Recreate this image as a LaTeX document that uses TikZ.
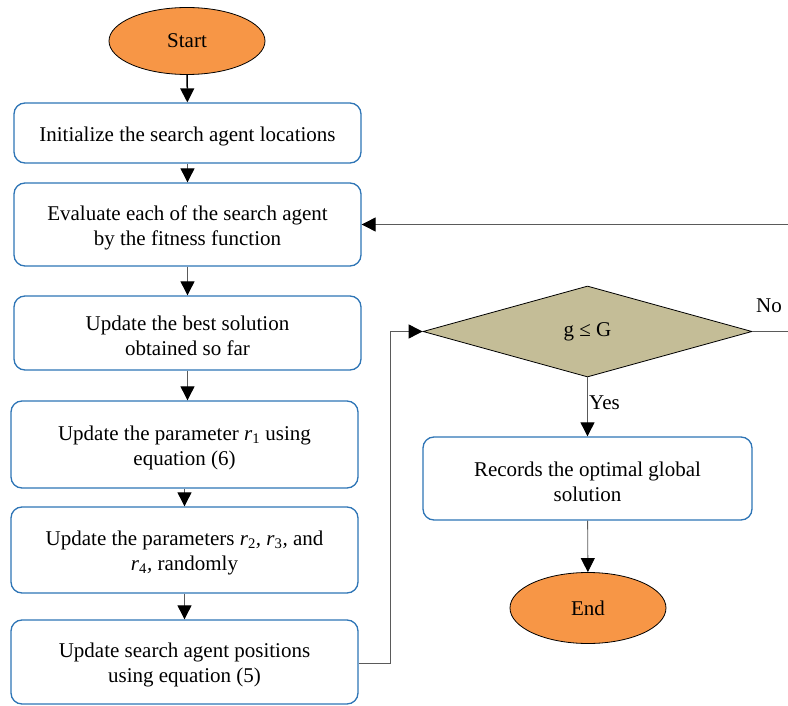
\documentclass[tikz,border=0pt]{standalone}
\usepackage{fontspec}
\setmainfont{Liberation Serif}
\usetikzlibrary{shapes.geometric,arrows.meta}
\definecolor{boxblue}{RGB}{46,117,182}
\definecolor{startorange}{RGB}{247,150,70}
\definecolor{tan}{RGB}{196,189,151}
\definecolor{linegray}{RGB}{90,90,90}
\tikzset{
  stepbox/.style={draw=boxblue, line width=1.3pt, rounded corners=11pt, fill=white,
    inner sep=0pt},
  boxtext/.style={align=center, inner sep=0pt, yshift=-3pt, font=\fontsize{21}{25}\selectfont},
  terminal/.style={ellipse, draw=black, line width=0.8pt, fill=startorange, inner sep=0pt,
    font=\fontsize{21}{25}\selectfont},
  decision/.style={diamond, draw=black, line width=0.8pt, fill=tan, inner sep=0pt,
    font=\fontsize{21}{25}\selectfont},
  conn/.style={draw=linegray, line width=0.9pt, -{Triangle[length=14pt,width=14pt,fill=black,color=black]}},
  lbl/.style={font=\fontsize{21}{25}\selectfont, inner sep=0pt},
}
\begin{document}
\begin{tikzpicture}[x=1pt,y=-1pt]
\useasboundingbox (0,0) rectangle (788,706);
\node[terminal, minimum width=156pt, minimum height=67pt] (start) at (187,41) {\raisebox{-1pt}{Start}};
\node[stepbox, minimum width=347pt, minimum height=60pt,
  label={[boxtext]center:Initialize the search agent locations}] (b1) at (187.5,133) {};
\node[stepbox, minimum width=347pt, minimum height=83pt,
  label={[boxtext]center:Evaluate each of the search agent\\by the fitness function}] (b2) at (187.5,224.5) {};
\node[stepbox, minimum width=347pt, minimum height=74pt,
  label={[boxtext]center:Update the best solution\\obtained so far}] (b3) at (187.5,333) {};
\node[stepbox, minimum width=347pt, minimum height=87pt,
  label={[boxtext]center:Update the parameter \textit{r}\textsubscript{1} using\\equation (6)}] (b4) at (184.5,444.5) {};
\node[stepbox, minimum width=347pt, minimum height=86pt,
  label={[boxtext]center:Update the parameters \textit{r}\textsubscript{2}\textit{,} \textit{r}\textsubscript{3}\textit{,} and\\\textit{r}\textsubscript{4}\textit{,} randomly}] (b5) at (184.5,550) {};
\node[stepbox, minimum width=347pt, minimum height=84pt,
  label={[boxtext]center:Update search agent positions\\using equation (5)}] (b6) at (184.5,662) {};
\node[decision, minimum width=329pt, minimum height=91pt] (dec) at (587.5,331.5) {\raisebox{-3pt}{g ≤ G}};
\node[stepbox, minimum width=329pt, minimum height=83pt,
  label={[boxtext]center:Records the optimal global\\solution}] (b7) at (587.5,478.5) {};
\node[terminal, minimum width=156pt, minimum height=71pt] (end) at (588,608) {End};
\node[lbl, anchor=west] (yes) at (589,403) {Yes};
\node[lbl] (no) at (769,306) {No};
\coordinate (loopA) at (790,331.5);
\coordinate (loopB) at (790,224.5);
\coordinate (feedX) at (390,663);

\draw[conn, draw=black, line width=1.5pt] (start) -- (b1);
\draw[conn] (b1) -- (b2);
\draw[conn] (b2) -- (b3);
\draw[conn] (b3.south) -- (b3.south |- b4.north);
\draw[conn] (b4) -- (b5);
\draw[conn] (b5) -- (b6);
\draw[conn] (b6.east |- feedX) -- (feedX) |- (dec.west);
\draw[conn] (dec) -- (b7);
\draw[conn] (b7) -- (end);
\draw[conn] (dec.east) -- (loopA) -- (loopB) -- (b2.east);
\end{tikzpicture}
\end{document}
